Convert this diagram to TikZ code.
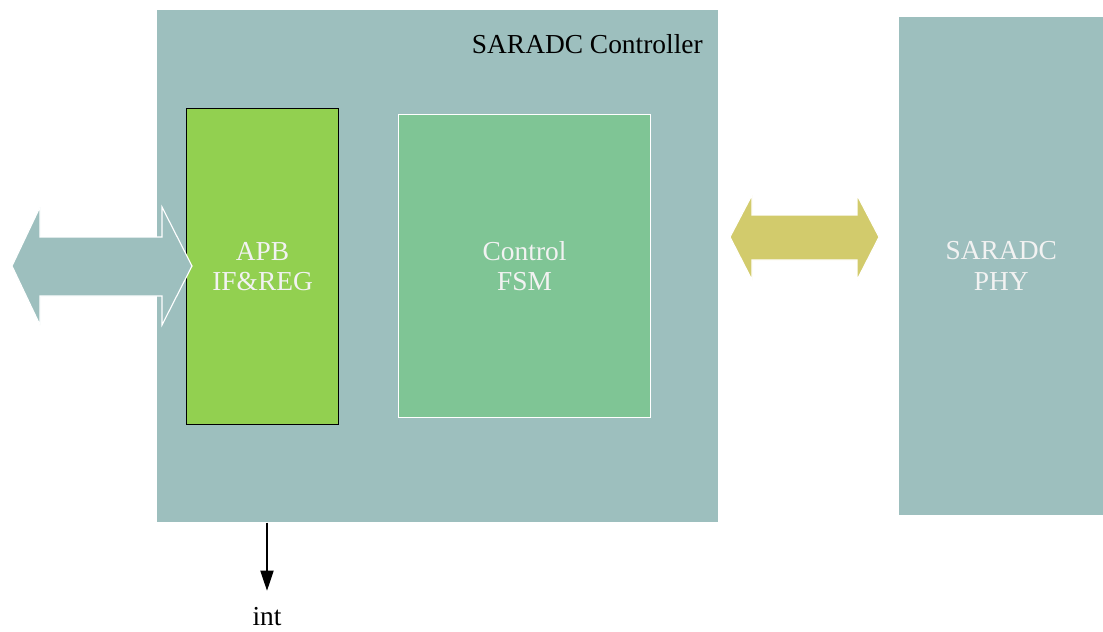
\documentclass[tikz,border=0pt]{standalone}
\usepackage{fontspec}
\setmainfont{Liberation Serif}
\usetikzlibrary{positioning, arrows.meta}

\definecolor{ctlgray}{HTML}{9DBFBE}
\definecolor{apbgreen}{HTML}{92D050}
\definecolor{fsmgreen}{HTML}{7FC595}
\definecolor{busyellow}{HTML}{D2CB6C}
\definecolor{boxtext}{HTML}{F2F2F2}

\begin{document}
\begin{tikzpicture}[
  x=0.025cm, y=-0.025cm,
  font=\fontsize{19.5}{22}\selectfont,
  >={Triangle[length=5mm, width=3.3mm]},
  block/.style={anchor=north west, inner sep=0pt, align=center, text=boxtext},
  ctl/.style={block, fill=ctlgray},
  regs/.style={block, fill=apbgreen, draw=black, line width=0.8pt},
  fsm/.style={block, fill=fsmgreen, draw=white, line width=0.8pt},
  bus/.style={draw=white, line width=0.8pt, line join=miter},
  flow/.style={->, line width=0.8pt},
]
\useasboundingbox (0,0) rectangle (1103,631);
% blocks
\node[ctl, minimum width=14.025cm, minimum height=12.8cm] (saradc) at (157,10) {};
\node[anchor=east, inner sep=0pt] (title) at (703,44) {SARADC Controller};
\node[regs, minimum width=3.8cm, minimum height=7.9cm] (apb) at (186,108) {APB\\IF\&REG};
\node[fsm, minimum width=6.3cm, minimum height=7.575cm] (ctrlfsm) at (398,114) {Control\\FSM};
\node[ctl, minimum width=5.1cm, minimum height=12.45cm] (phy) at (899,17) {SARADC\\PHY};
% bus arrows
\filldraw[bus, fill=ctlgray] (12,266) -- (40,207) -- (40,237) -- (162,237) -- (162,207)
  -- (192,266) -- (162,325) -- (162,296) -- (40,296) -- (40,325) -- cycle;
\filldraw[bus, fill=busyellow] (730,237) -- (752,195) -- (752,215) -- (857,215) -- (857,195)
  -- (879,237) -- (857,280) -- (857,260) -- (752,260) -- (752,280) -- cycle;
% interrupt
\node[inner sep=0pt] (int) at (267,617) {int};
\draw[flow, shorten >=4.2mm] (saradc.south -| int) -- (int.north);
\end{tikzpicture}
\end{document}
